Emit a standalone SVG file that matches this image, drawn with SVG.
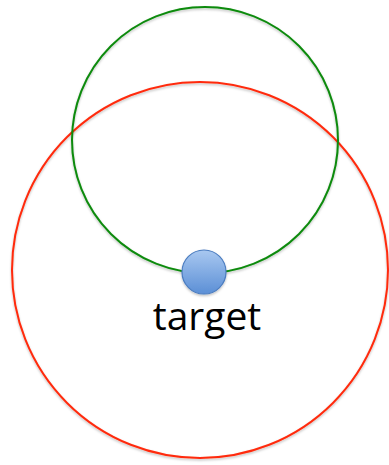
<svg xmlns="http://www.w3.org/2000/svg" width="389" height="465" viewBox="0 0 389 465">
<defs>
<style>
.ring{fill:none;stroke-width:2}
.lbl{font-family:"Open Sans","Noto Sans",sans-serif;font-size:39px;fill:#000}
</style>
<filter id="sh" x="-10%" y="-10%" width="120%" height="120%">
<feDropShadow dx="0" dy="1.5" stdDeviation="1.2" flood-color="#000" flood-opacity="0.25"/>
</filter>
<linearGradient id="ball" x1="0" y1="0" x2="0" y2="1">
<stop offset="0" stop-color="#a9c8f0"/>
<stop offset="1" stop-color="#5b8fd6"/>
</linearGradient>
</defs>
<g id="red-circle"><circle class="ring" cx="200" cy="270" r="188" stroke="#ff2a0a" filter="url(#sh)"/></g>
<g id="green-circle"><circle class="ring" cx="205" cy="140" r="133" stroke="#0a8a0a" filter="url(#sh)"/></g>
<g id="target">
<circle cx="204" cy="272" r="22" fill="url(#ball)" stroke="#4a7cc0" stroke-width="1.2" filter="url(#sh)"/>
<text class="lbl" x="207" y="330" text-anchor="middle">target</text>
</g>
</svg>
